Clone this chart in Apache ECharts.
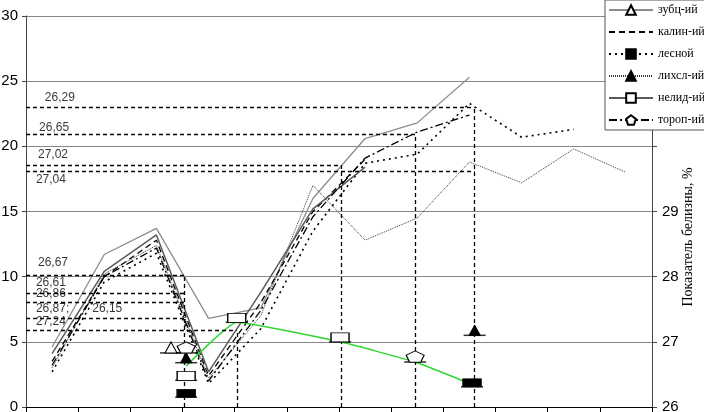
<!DOCTYPE html>
<html>
<head>
<meta charset="utf-8">
<script src="https://cdn.jsdelivr.net/npm/echarts@6/dist/echarts.min.js"></script>
<style>
html, body { margin: 0; padding: 0; background: #fff; }
#chart { width: 704px; height: 412px; }
</style>
</head>
<body>
<div id="chart"></div>
<script>
// номера точек по оси X (подписи на оси не выводятся)
const categories = ['1', '2', '3', '4', '5', '6', '7', '8', '9', '10', '11', '12'];

// кривые по левой оси
const zubc   = [4.6, 11.7, 13.7, 6.8, 7.6, 16.0, 20.6, 21.8, 25.3, null, null, null];
const kalin  = [3.5, 10.0, 12.8, 2.4, 8.0, 15.0, 19.0, null, null, null, null, null];
const lesnoy = [2.7, 9.6, 11.8, 1.8, 6.0, 13.5, 18.7, 19.4, 23.3, 20.7, 21.3, null];
const lihsl  = [3.0, 10.2, 12.4, 2.2, 7.0, 17.0, 12.8, 14.5, 18.8, 17.2, 19.8, 18.0];
const nelid  = [4.1, 10.4, 13.2, 2.7, 8.8, 15.2, 18.4, null, null, null, null, null];
const torop  = [3.2, 10.0, 12.2, 2.0, 7.4, 14.6, 19.1, 21.1, 22.4, null, null, null];

// показатель белизны (правая ось), [положение по X, значение]
const zubcW   = [[2.78, 26.83]];
const lesnoyW = [[3.07, 26.15], [8.55, 26.31]];
const lihslW  = [[3.07, 26.68], [8.6, 27.10]];
const nelidW  = [[3.07, 26.41], [4.04, 27.30], [6.02, 27.00]];
const toropW  = [[3.07, 26.83], [7.46, 26.69]];
// зелёная линия тренда
const trendW  = [[3.07, 26.63], [4.04, 27.30], [6.02, 27.00], [7.46, 26.69], [8.66, 26.31]];

// пунктирные выноски: горизонтальные [уровень, конец по X], вертикальные [X, верх]
const hGuides = [[23.02, 8.6], [20.95, 7.46], [18.57, 6.04], [18.11, 8.6], [10.13, 3.03],
                 [8.75, 3.03], [8.06, 3.03], [6.83, 3.03], [5.91, 4.04]];
const vGuides = [[3.03, 10.13], [4.04, 5.91], [6.04, 18.57], [7.46, 20.95], [8.6, 23.02]];

// подписи у выносок [текст, X, Y]
const notes = [['26,29', 0.36, 23.71], ['26,65', 0.25, 21.41], ['27,02', 0.23, 19.34],
               ['27,04', 0.19, 17.42], ['26,67', 0.23, 11.05], ['26,61', 0.19, 9.52],
               ['26,86', 0.19, 8.67], ['26,87;', 0.19, 7.52], ['26,15', 1.27, 7.52],
               ['27,24', 0.19, 6.52]];

const pentagon = 'path://M50,0 L100,38 L81,100 L19,100 L0,38 Z';
const sans = 'Liberation Sans';
const serif = 'Liberation Serif';

let chart = echarts.init(document.getElementById('chart'), null, { renderer: 'canvas' });

function lineSeries(name, data, color, width, type, symbol, size, fill) {
  return {
    name: name, type: 'line', data: data,
    xAxisIndex: 0, yAxisIndex: 0,
    showSymbol: false, symbol: symbol, symbolSize: size,
    lineStyle: { color: color, width: width, type: type },
    itemStyle: { color: fill, borderColor: '#000', borderWidth: 1 },
    emphasis: { disabled: true },
    z: 3
  };
}

function markerSeries(name, data, symbol, size, fill) {
  return {
    name: name, type: 'scatter', data: data,
    xAxisIndex: 1, yAxisIndex: 1,
    symbol: symbol, symbolSize: size, symbolOffset: [0, '-50%'],
    itemStyle: { color: fill, borderColor: '#000', borderWidth: 1, opacity: 1 },
    z: 6
  };
}

const allPoints = [].concat(zubcW, lesnoyW, lihslW, nelidW, toropW);

let option = {
  animation: false,
  backgroundColor: '#fff',
  grid: { left: 26, right: 52, top: 16, bottom: 5, outerBoundsMode: 'none' },
  legend: {
    orient: 'vertical', left: 605, top: 0,
    backgroundColor: '#fff', borderColor: '#555', borderWidth: 1,
    padding: [4, 4, 4, 3], itemGap: 10, itemWidth: 44, itemHeight: 12,
    textStyle: { fontFamily: serif, fontSize: 12, color: '#000' },
    data: [
      { name: 'зубц-ий' },
      { name: 'калин-ий', itemStyle: { opacity: 0 } },
      { name: 'лесной' },
      { name: 'лихсл-ий' },
      { name: 'нелид-ий' },
      { name: 'тороп-ий' }
    ],
    z: 10
  },
  xAxis: [
    {
      type: 'category', data: categories, boundaryGap: true,
      axisLine: { lineStyle: { color: '#000', width: 1 } },
      axisTick: { show: true, length: 5, lineStyle: { color: '#000' } },
      axisLabel: { show: false },
      splitLine: { show: false }
    },
    {
      type: 'value', min: 0, max: 12, show: false
    }
  ],
  yAxis: [
    {
      type: 'value', min: 0, max: 30, interval: 5,
      axisLine: { show: true, lineStyle: { color: '#444' } },
      axisTick: { show: true, length: 4, lineStyle: { color: '#444' } },
      axisLabel: { fontFamily: sans, fontSize: 15, color: '#000', margin: 8 },
      splitLine: { lineStyle: { color: '#888', width: 1 } }
    },
    {
      type: 'value', min: 26, max: 32, interval: 1, position: 'right',
      axisLine: { show: true, lineStyle: { color: '#444' } },
      axisTick: { show: true, length: 5, lineStyle: { color: '#444' } },
      axisLabel: {
        fontFamily: sans, fontSize: 15, color: '#000', margin: 10,
        formatter: v => (v <= 29 ? String(v) : '')
      },
      splitLine: { show: false }
    }
  ],
  graphic: [{
    type: 'text', x: 688, y: 237, rotation: Math.PI / 2,
    style: {
      text: 'Показатель белизны, %', fill: '#000',
      font: '14px "Liberation Serif"',
      textAlign: 'center', textVerticalAlign: 'middle',
      align: 'center', verticalAlign: 'middle'
    }
  }],
  series: [
    lineSeries('зубц-ий', zubc, '#8c8c8c', 1.3, 'solid', 'triangle', 11, '#fff'),
    lineSeries('калин-ий', kalin, '#000', 1.3, [6, 4], 'none', 1, '#000'),
    lineSeries('лесной', lesnoy, '#000', 1.6, [2, 4], 'rect', [16, 9], '#000'),
    lineSeries('лихсл-ий', lihsl, '#333', 1, [1, 1], 'triangle', 11, '#000'),
    lineSeries('нелид-ий', nelid, '#5a5a5a', 1.5, 'solid', 'rect', [16, 9], '#fff'),
    lineSeries('тороп-ий', torop, '#000', 1.3, [8, 3, 2, 3], pentagon, [14, 10], '#fff'),
    {
      name: 'тренд', type: 'line', data: trendW,
      xAxisIndex: 1, yAxisIndex: 1, smooth: 0.12,
      showSymbol: false, symbol: 'none',
      lineStyle: { color: '#2fd62f', width: 1.5 },
      z: 4
    },
    {
      name: 'выноски', type: 'scatter',
      xAxisIndex: 1, yAxisIndex: 0,
      symbolSize: 0, silent: true,
      data: notes.map(n => ({ name: n[0], value: [n[1], n[2]] })),
      label: {
        show: true, position: 'right', distance: 0,
        formatter: p => p.name,
        fontFamily: sans, fontSize: 12, color: '#000'
      },
      markLine: {
        silent: true, symbol: 'none',
        label: { show: false },
        lineStyle: { color: '#000', width: 1.3, type: [4, 3] },
        data: hGuides.map(g => [{ coord: [0, g[0]] }, { coord: [g[1], g[0]] }])
          .concat(vGuides.map(g => [{ coord: [g[0], 0] }, { coord: [g[0], g[1]] }]))
      },
      z: 2
    },
    {
      name: 'основания', type: 'scatter', data: allPoints,
      xAxisIndex: 1, yAxisIndex: 1,
      symbol: 'rect', symbolSize: [22, 1.5],
      itemStyle: { color: '#000' }, silent: true,
      z: 5
    },
    markerSeries('зубц-ий', zubcW, 'triangle', [12, 11], '#fff'),
    markerSeries('лесной', lesnoyW, 'rect', [18, 8], '#000'),
    markerSeries('лихсл-ий', lihslW, 'triangle', [11, 10], '#000'),
    markerSeries('нелид-ий', nelidW, 'rect', [18, 9], '#fff'),
    markerSeries('тороп-ий', toropW, pentagon, [18, 11], '#fff')
  ]
};

option && chart.setOption(option);
</script>
</body>
</html>
